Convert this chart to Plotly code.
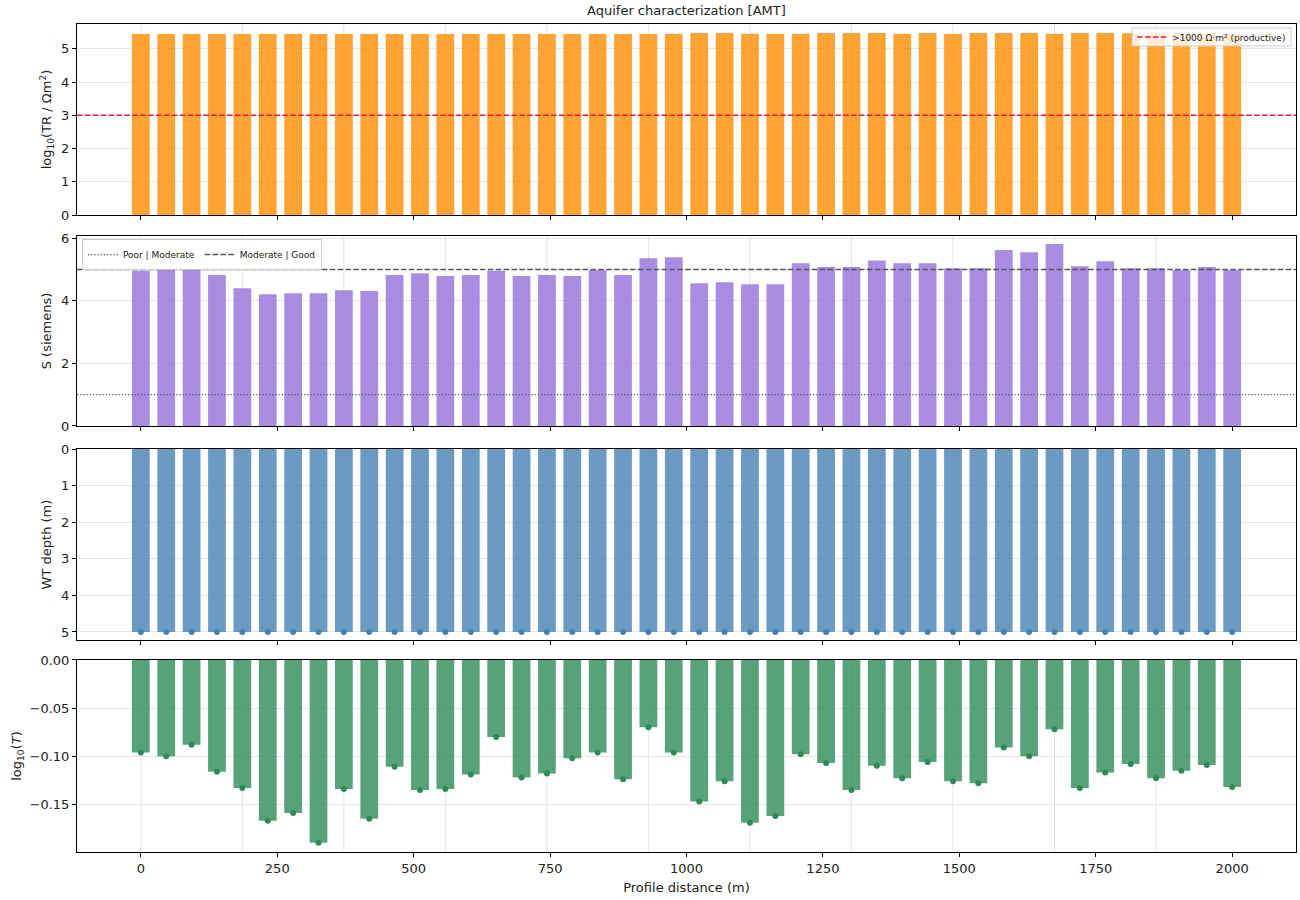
import plotly.graph_objects as go
from plotly.subplots import make_subplots

# ---------------- data ----------------
distance_m = [0.0, 46.5, 93.0, 139.5, 186.0, 232.6, 279.1, 325.6, 372.1, 418.6,
              465.1, 511.6, 558.1, 604.7, 651.2, 697.7, 744.2, 790.7, 837.2, 883.7,
              930.2, 976.7, 1023.3, 1069.8, 1116.3, 1162.8, 1209.3, 1255.8, 1302.3, 1348.8,
              1395.3, 1441.9, 1488.4, 1534.9, 1581.4, 1627.9, 1674.4, 1720.9, 1767.4, 1814.0,
              1860.5, 1907.0, 1953.5, 2000.0]

log_tr = [5.45, 5.45, 5.45, 5.45, 5.45, 5.45, 5.45, 5.45, 5.45, 5.45,
          5.45, 5.45, 5.45, 5.45, 5.45, 5.45, 5.45, 5.45, 5.45, 5.45,
          5.45, 5.46, 5.48, 5.48, 5.46, 5.45, 5.46, 5.48, 5.48, 5.48,
          5.46, 5.48, 5.45, 5.48, 5.48, 5.48, 5.46, 5.48, 5.48, 5.47,
          5.48, 5.47, 5.47, 5.46]

conductance_s = [4.96, 4.98, 5.01, 4.82, 4.40, 4.21, 4.24, 4.24, 4.34, 4.31,
                 4.82, 4.88, 4.79, 4.82, 4.96, 4.79, 4.82, 4.79, 4.98, 4.82,
                 5.36, 5.39, 4.56, 4.59, 4.53, 4.53, 5.20, 5.08, 5.08, 5.29,
                 5.20, 5.20, 5.04, 5.04, 5.62, 5.55, 5.81, 5.10, 5.26, 5.04,
                 5.04, 4.98, 5.08, 4.98]

wt_depth = [5.0, 5.0, 5.0, 5.0, 5.0, 5.0, 5.0, 5.0, 5.0, 5.0,
            5.0, 5.0, 5.0, 5.0, 5.0, 5.0, 5.0, 5.0, 5.0, 5.0,
            5.0, 5.0, 5.0, 5.0, 5.0, 5.0, 5.0, 5.0, 5.0, 5.0,
            5.0, 5.0, 5.0, 5.0, 5.0, 5.0, 5.0, 5.0, 5.0, 5.0,
            5.0, 5.0, 5.0, 5.0]

log_t = [-0.096, -0.100, -0.088, -0.116, -0.133, -0.167, -0.159, -0.190, -0.134, -0.165,
         -0.111, -0.135, -0.134, -0.119, -0.080, -0.122, -0.118, -0.102, -0.096, -0.124,
         -0.070, -0.096, -0.147, -0.126, -0.169, -0.162, -0.098, -0.107, -0.135, -0.110,
         -0.123, -0.106, -0.126, -0.128, -0.091, -0.100, -0.072, -0.133, -0.117, -0.108,
         -0.123, -0.115, -0.109, -0.132]

tr_threshold = 3.0
s_poor_moderate = 1.0
s_moderate_good = 5.0

x_ticks = [0, 250, 500, 750, 1000, 1250, 1500, 1750, 2000]

# ---------------- styling ----------------
FONT = "DejaVu Sans"
bar_w = 0.7 * (distance_m[1] - distance_m[0])
GRID = "rgba(200,200,200,0.45)"
RED = "#E8183C"
GREY = "#555555"
DASH = "5.5px,2.4px"
DOT = "1.2px,2px"

fig = make_subplots(rows=4, cols=1, shared_xaxes=True, vertical_spacing=0.02)

fig.add_trace(go.Bar(x=distance_m, y=log_tr, width=bar_w,
                     marker=dict(color="rgba(255,140,0,0.8)", line=dict(width=0)),
                     showlegend=False), row=1, col=1)

fig.add_trace(go.Bar(x=distance_m, y=conductance_s, width=bar_w,
                     marker=dict(color="rgba(147,112,219,0.8)", line=dict(width=0)),
                     showlegend=False), row=2, col=1)

fig.add_trace(go.Bar(x=distance_m, y=wt_depth, width=bar_w,
                     marker=dict(color="rgba(70,130,180,0.8)", line=dict(width=0)),
                     showlegend=False), row=3, col=1)
fig.add_trace(go.Scatter(x=distance_m, y=wt_depth, mode="markers",
                         marker=dict(color="#4682B4", size=6),
                         showlegend=False), row=3, col=1)

fig.add_trace(go.Bar(x=distance_m, y=log_t, width=bar_w,
                     marker=dict(color="rgba(46,139,87,0.8)", line=dict(width=0)),
                     showlegend=False), row=4, col=1)
fig.add_trace(go.Scatter(x=distance_m, y=log_t, mode="markers",
                         marker=dict(color="#2E8B57", size=6),
                         showlegend=False), row=4, col=1)

# threshold lines (axhline-like)
fig.add_shape(type="line", xref="x domain", x0=0, x1=1, yref="y", y0=tr_threshold, y1=tr_threshold,
              line=dict(color=RED, width=1.5, dash=DASH))
fig.add_shape(type="line", xref="x2 domain", x0=0, x1=1, yref="y2", y0=s_poor_moderate, y1=s_poor_moderate,
              line=dict(color=GREY, width=1.2, dash=DOT))
fig.add_shape(type="line", xref="x2 domain", x0=0, x1=1, yref="y2", y0=s_moderate_good, y1=s_moderate_good,
              line=dict(color=GREY, width=1.5, dash=DASH))

# compact frame behind the first legend
fig.add_shape(type="rect", xref="paper", yref="paper", x0=0.8655, x1=0.9959, y0=0.9734, y1=0.9952,
              fillcolor="rgba(255,255,255,0.8)", line=dict(color="#cccccc", width=1), layer="above")

# legend entries
fig.add_trace(go.Scatter(x=[None], y=[None], mode="lines", name=">1000 Ω·m² (productive)",
                         line=dict(color=RED, width=1.5, dash=DASH), legend="legend"),
              row=1, col=1)
fig.add_trace(go.Scatter(x=[None], y=[None], mode="lines", name="Poor | Moderate",
                         line=dict(color=GREY, width=1.2, dash=DOT), legend="legend2"),
              row=2, col=1)
fig.add_trace(go.Scatter(x=[None], y=[None], mode="lines", name="Moderate | Good",
                         line=dict(color=GREY, width=1.5, dash=DASH), legend="legend2"),
              row=2, col=1)

# vertical faint grid every 4th station
for r in range(1, 5):
    yr = "y domain" if r == 1 else f"y{r} domain"
    xref = "x" if r == 1 else f"x{r}"
    for xv in distance_m[::4]:
        fig.add_shape(type="line", xref=xref, x0=xv, x1=xv, yref=yr, y0=0, y1=1,
                      line=dict(color=GRID, width=1), layer="below")

domains = [(0.7693, 1.0), (0.5145, 0.7440), (0.2560, 0.4867), (0.0, 0.2319)]
axis_common = dict(showline=True, linecolor="black", linewidth=1, mirror=True,
                   ticks="outside", ticklen=4, tickcolor="black",
                   tickfont=dict(family=FONT, size=13, color="#222"),
                   zeroline=False)

for r in range(1, 5):
    xa = "xaxis" if r == 1 else f"xaxis{r}"
    ya = "yaxis" if r == 1 else f"yaxis{r}"
    fig.layout[xa].update(range=[-117, 2117], tickmode="array", tickvals=x_ticks,
                          showgrid=False, showticklabels=(r == 4), **axis_common)
    fig.layout[ya].update(domain=list(domains[r - 1]), showgrid=True, gridcolor=GRID,
                          gridwidth=1, **axis_common)

TFONT = dict(family=FONT, size=13, color="#222")
fig.update_layout(
    yaxis=dict(range=[0, 5.75], tickvals=[0, 1, 2, 3, 4, 5],
               title=dict(text="log<sub>10</sub>(TR / Ωm<sup>2</sup>)", font=TFONT, standoff=6)),
    yaxis2=dict(range=[0, 6.07], tickvals=[0, 2, 4, 6],
                title=dict(text="S (siemens)", font=TFONT, standoff=6)),
    yaxis3=dict(range=[5.22, 0], tickvals=[0, 1, 2, 3, 4, 5],
                title=dict(text="WT depth (m)", font=TFONT, standoff=6)),
    yaxis4=dict(range=[-0.1995, 0], tickvals=[0, -0.05, -0.10, -0.15], tickformat=".2f",
                title=dict(text="log<sub>10</sub>(<i>T</i>)", font=TFONT, standoff=4)),
    xaxis4=dict(title=dict(text="Profile distance (m)", font=TFONT, standoff=8)),
)

fig.update_layout(
    width=1300, height=900,
    margin=dict(l=77, r=4, t=24, b=48),
    plot_bgcolor="white", paper_bgcolor="white",
    font=dict(family=FONT, size=13, color="#222"),
    barmode="overlay",
    title=dict(text="Aquifer characterization [AMT]", x=0.528, xanchor="center",
               y=1 - 10 / 900, yanchor="middle", yref="container",
               font=TFONT),
    legend=dict(x=0.996, xanchor="right", y=0.9843, yanchor="middle", xref="paper", yref="paper",
                orientation="h",
                bgcolor="rgba(0,0,0,0)", bordercolor="rgba(0,0,0,0)", borderwidth=0,
                font=dict(family=FONT, size=9, color="#222"), itemwidth=30),
    legend2=dict(x=0.004, xanchor="left", y=0.7403, yanchor="top", xref="paper", yref="paper",
                 orientation="h", bgcolor="rgba(255,255,255,0.8)", bordercolor="#cccccc", borderwidth=1,
                 font=dict(family=FONT, size=9, color="#222"), itemwidth=30),
)

fig.write_html("out.html")
